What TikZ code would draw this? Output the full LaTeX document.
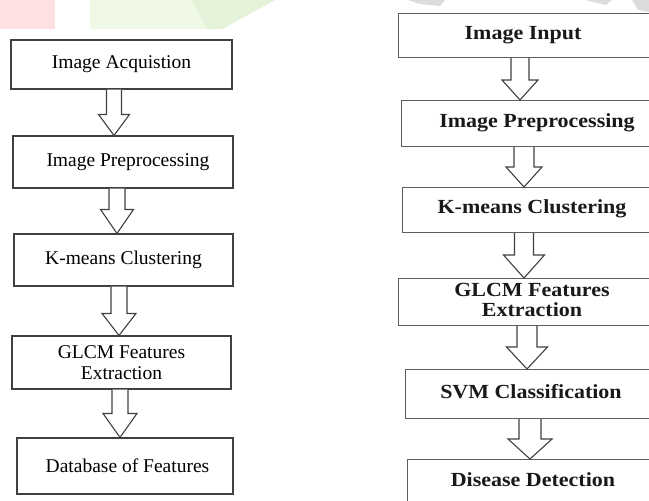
\documentclass[tikz,border=0pt]{standalone}
\usepackage{fontspec}
\setmainfont{Liberation Serif}
\newfontfamily\rfont[FakeStretch=1.1]{Liberation Serif}
\usetikzlibrary{calc}
\definecolor{linecol}{HTML}{404040}
\definecolor{wpink}{HTML}{FFE0E0}
\definecolor{wgreen}{HTML}{EFF8E4}
\definecolor{wgreen2}{HTML}{E5F2DA}
\definecolor{wgrey}{HTML}{DCDCDC}
\tikzset{
  lbox/.style={draw=linecol, line width=1.1pt, rectangle, inner sep=0pt, align=center,
     font=\fontsize{19.5}{20.5}\selectfont},
  rbox/.style={draw=linecol!85, line width=1.1pt, rectangle, inner sep=0pt},
  rtext/.style={inner sep=0pt, align=center, text=black!90, font=\rfont\fontsize{20}{20.5}\selectfont\bfseries},
  barrow/.style={draw=linecol, line width=1.1pt, fill=white, line join=miter},
}
% #1 from node, #2 to node, #3 centre x, #4 half shaft, #5 half head, #6 head length
\newcommand\blockarr[6]{%
  \draw[barrow] let \p1=(#1.south), \p2=(#2.north), \p3=(#3,0) in
    (\x3-#4pt,\y1) -- (\x3-#4pt,\y2+#6pt) -- (\x3-#5pt,\y2+#6pt) -- (\x3,\y2)
    -- (\x3+#5pt,\y2+#6pt) -- (\x3+#4pt,\y2+#6pt) -- (\x3+#4pt,\y1);%
}
\begin{document}
\begin{tikzpicture}[x=1pt,y=-1pt]
\useasboundingbox (0,0) rectangle (649,501);
\clip (0,0) rectangle (649,501);
% faint watermark remains
\fill[wpink] (0,0) rectangle (55,29);
\fill[wgreen] (90,0) -- (275,0) -- (222,29) -- (90,29) -- cycle;
\fill[wgreen2] (192,0) -- (275,0) -- (222,29) -- (207,29) -- cycle;
\fill[wgrey] (408,0) -- (445,0) -- (440,6) -- (420,4) -- cycle;
\fill[wgrey] (585,0) -- (612,0) -- (606,5) -- cycle;
\fill[wgrey] (632,0) -- (649,0) -- (649,12) -- (638,10) -- cycle;

% left column
\node[lbox, minimum width=221pt, minimum height=49pt] (l1) at (121.5,64.5) {Image Acquistion};
\node[lbox, minimum width=220pt, minimum height=52pt] (l2) at (123,162) {\hspace*{10pt}Image Preprocessing};
\node[lbox, minimum width=219pt, minimum height=52pt] (l3) at (123.5,260) {K-means Clustering};
\node[lbox, minimum width=219pt, minimum height=53pt] (l4) at (121.5,362.5) {GLCM Features\\Extraction};
\node[lbox, minimum width=216pt, minimum height=56pt] (l5) at (125,466) {\hspace*{5pt}Database of Features};

\blockarr{l1}{l2}{114}{7.5}{15.5}{21}
\blockarr{l2}{l3}{117}{8}{16.5}{24}
\blockarr{l3}{l4}{119}{8}{17}{22}
\blockarr{l4}{l5}{120}{8}{17}{24}

% right column (boxes run past the right edge)
\node[rbox, minimum width=262pt, minimum height=44pt, anchor=north west] (r1) at (398,13) {};
\node[rbox, minimum width=262pt, minimum height=46pt, anchor=north west] (r2) at (401,100) {};
\node[rbox, minimum width=262pt, minimum height=45pt, anchor=north west] (r3) at (402,187) {};
\node[rbox, minimum width=262pt, minimum height=47pt, anchor=north west] (r4) at (398,278) {};
\node[rbox, minimum width=262pt, minimum height=49pt, anchor=north west] (r5) at (405,369) {};
\node[rbox, minimum width=262pt, minimum height=60pt, anchor=north west] (r6) at (407,459) {};

\node[rtext] (t1) at (523,35) {Image Input};
\node[rtext] (t2) at (537,123) {Image Preprocessing};
\node[rtext] (t3) at (532,209) {K-means Clustering};
\node[rtext] (t4) at (532,300) {GLCM Features\\Extraction};
\node[rtext] (t5) at (531,392) {SVM Classification};
\node[rtext] (t6) at (533,480) {Disease Detection};

\blockarr{r1}{r2}{520}{9}{18}{20}
\blockarr{r2}{r3}{524}{10}{18}{20}
\blockarr{r3}{r4}{524}{9.5}{20.5}{23}
\blockarr{r4}{r5}{527}{10}{20.5}{22}
\blockarr{r5}{r6}{530}{11}{22}{20}
\end{tikzpicture}
\end{document}
